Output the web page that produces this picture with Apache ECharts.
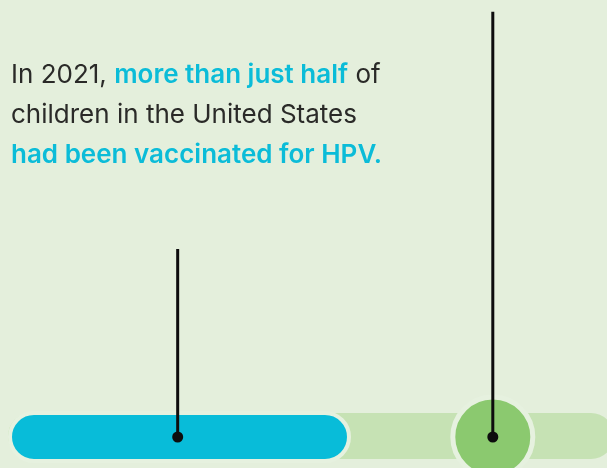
<!DOCTYPE html>
<html>
<head>
<meta charset="utf-8">
<script src="https://cdn.jsdelivr.net/npm/echarts@6/dist/echarts.min.js"></script>
<style>
  html, body { margin: 0; padding: 0; background: #e4efdc; }
  #chart { width: 607px; height: 468px; }
</style>
</head>
<body>
<div id="chart"></div>
<script>
// data
var categories = ['Children'];
var trackValues = [100];
var vaccinatedValues = [56.6];
var goalValues = [80];
var pointerX = [28, 80];
var pointerHeights = [43, 97.3];

var chartDom = document.getElementById('chart');
var myChart = echarts.init(chartDom);

var bg = '#e4efdc';

var pointerSeries = pointerX.map(function (x, i) {
    return {
        name: 'pointer' + i,
        type: 'line',
        xAxisIndex: 1,
        yAxisIndex: 1,
        z: 10,
        silent: true,
        lineStyle: { color: '#0d0d0d', width: 3 },
        itemStyle: { color: '#0d0d0d' },
        data: [
            { value: [x, 0], symbol: 'circle', symbolSize: 11 },
            { value: [x, pointerHeights[i]], symbol: 'none' }
        ],
        animation: false
    };
});

var option = {
    backgroundColor: bg,
    animation: false,
    title: {
        left: 6,
        top: 50,
        text: '{a|In 2021, }{b|more than just half}{a| of}\n{a|children in the United States}\n{b|had been vaccinated for HPV.}',
        textStyle: {
            rich: {
                a: { fontFamily: 'Inter', fontSize: 26, fontWeight: 'normal', color: '#2a2a28', lineHeight: 40 },
                b: { fontFamily: 'Inter', fontSize: 26, fontWeight: 600, color: '#0bbcd8', lineHeight: 40 }
            }
        }
    },
    grid: [
        { left: 8, width: 606, top: 413, height: 48, outerBoundsMode: 'none' },
        { left: 8, width: 606, top: 0, height: 437, outerBoundsMode: 'none' }
    ],
    xAxis: [
        { type: 'value', gridIndex: 0, min: 0, max: 100, show: false },
        { type: 'value', gridIndex: 1, min: 0, max: 100, show: false }
    ],
    yAxis: [
        { type: 'category', gridIndex: 0, data: categories, show: false },
        { type: 'value', gridIndex: 1, min: 0, max: 100, show: false }
    ],
    series: [
        {
            name: 'Track',
            type: 'bar',
            barWidth: 48,
            itemStyle: { color: '#c6e2b4', borderRadius: 24 },
            data: trackValues
        },
        {
            name: 'Vaccinated',
            type: 'bar',
            barWidth: 52,
            barGap: '-100%',
            itemStyle: { color: '#08bcd9', borderRadius: 26, borderColor: '#e6f1df', borderWidth: 4 },
            data: vaccinatedValues
        },
        {
            name: 'Goal',
            type: 'scatter',
            clip: false,
            symbolSize: 80,
            z: 5,
            itemStyle: { color: '#8bc96f', borderColor: '#e6f1df', borderWidth: 5, opacity: 1 },
            data: goalValues.map(function (v, i) { return [v, categories[i]]; })
        }
    ].concat(pointerSeries)
};

myChart.setOption(option);
</script>
</body>
</html>
